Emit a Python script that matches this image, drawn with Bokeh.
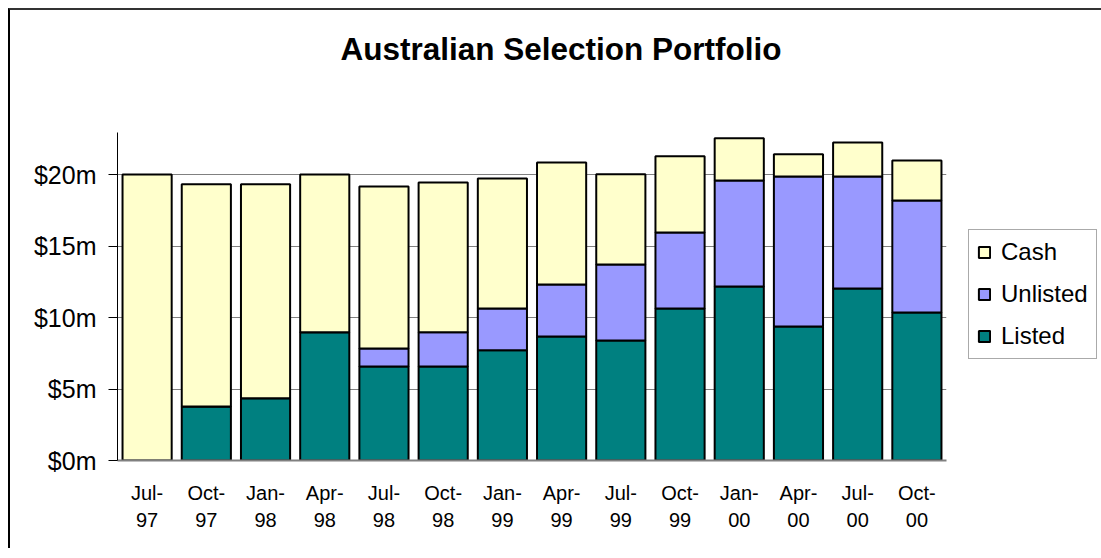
from bokeh.plotting import figure
from bokeh.models import FactorRange, Range1d, FixedTicker, Legend, LegendItem, ColumnDataSource, Title
from bokeh.embed import file_html
from bokeh.resources import INLINE

# ---- data ($ millions) ----
quarters = ["Jul-\n97", "Oct-\n97", "Jan-\n98", "Apr-\n98", "Jul-\n98", "Oct-\n98", "Jan-\n99",
            "Apr-\n99", "Jul-\n99", "Oct-\n99", "Jan-\n00", "Apr-\n00", "Jul-\n00", "Oct-\n00"]
listed = [0.0, 3.78, 4.36, 8.97, 6.57, 6.57, 7.71, 8.67, 8.39, 10.63, 12.17, 9.37, 12.03, 10.35]
unlisted = [0.0, 0.0, 0.0, 0.0, 1.26, 2.40, 2.92, 3.64, 5.32, 5.31, 7.41, 10.49, 7.83, 7.83]
cash = [20.0, 15.54, 14.96, 11.03, 11.33, 10.47, 9.09, 8.53, 6.31, 5.34, 2.96, 1.56, 2.38, 2.80]
series = ["Listed", "Unlisted", "Cash"]
colors = ["#008080", "#9999FF", "#FFFFCC"]
y_ticks = [0, 5, 10, 15, 20]
y_tick_labels = ["$0m", "$5m", "$10m", "$15m", "$20m"]
title_text = "Australian Selection Portfolio"

FONT = "Liberation Sans"

source = ColumnDataSource(dict(q=quarters, Listed=listed, Unlisted=unlisted, Cash=cash))

p = figure(x_range=FactorRange(*quarters, range_padding=0),
           y_range=Range1d(0, 22.94),
           frame_width=829, frame_height=328,
           min_border_left=107, min_border_right=155,
           min_border_top=122, min_border_bottom=88,
           output_backend="svg", toolbar_location=None)
p.styles = {"border-top": "2px solid #333333", "border-left": "2px solid #000000",
            "margin-left": "8px", "margin-top": "8px"}

renderers = p.vbar_stack(series, x="q", width=0.83, source=source,
                         fill_color=colors, line_color="black", line_width=2)

# title: a spacer nearest the frame, then the real title above it
spacer = Title(text=" ", text_font_size="1px", standoff=58)
p.add_layout(spacer, "above")
title = Title(text=title_text, text_font=FONT, text_font_size="31.5px",
              text_font_style="bold", text_color="black",
              align="left", offset=223, standoff=10)
p.add_layout(title, "above")

p.outline_line_color = None
p.background_fill_color = "white"
p.border_fill_color = "white"

# grid
p.xgrid.grid_line_color = None
p.ygrid.grid_line_color = "#808080"
p.ygrid.grid_line_width = 1
p.ygrid.ticker = FixedTicker(ticks=y_ticks)

# y axis
p.yaxis.ticker = FixedTicker(ticks=y_ticks)
p.yaxis.major_label_overrides = {t: l for t, l in zip(y_ticks, y_tick_labels)}
p.yaxis.major_label_text_font = FONT
p.yaxis.major_label_text_font_size = "25px"
p.yaxis.major_label_text_color = "black"
p.yaxis.axis_line_color = "black"
p.yaxis.axis_line_width = 1
p.yaxis.major_tick_line_color = "black"
p.yaxis.major_tick_out = 9
p.yaxis.major_tick_in = 0
p.yaxis.minor_tick_line_color = None
p.yaxis.major_label_standoff = 12

# x axis
p.xaxis.axis_line_color = "#808080"
p.xaxis.axis_line_width = 2
p.xaxis.major_tick_line_color = None
p.xaxis.minor_tick_line_color = None
p.xaxis.major_label_text_font = FONT
p.xaxis.major_label_text_font_size = "20px"
p.xaxis.major_label_text_color = "black"
p.xaxis.major_label_standoff = 15
p.xaxis.major_label_text_line_height = 1.25

# legend (Cash, Unlisted, Listed)
items = [LegendItem(label=s, renderers=[r]) for s, r in zip(series, renderers)][::-1]
legend = Legend(items=items, location=(22, 101))
legend.label_text_font = FONT
legend.label_text_font_size = "24px"
legend.label_text_color = "black"
legend.glyph_width = 14
legend.glyph_height = 14
legend.label_height = 28
legend.spacing = 14
legend.padding = 8
legend.margin = 0
legend.label_standoff = 10
legend.border_line_color = "#555555"
legend.border_line_width = 1
legend.background_fill_alpha = 1
p.add_layout(legend, "right")

open("out.html", "w").write(file_html(p, INLINE))
